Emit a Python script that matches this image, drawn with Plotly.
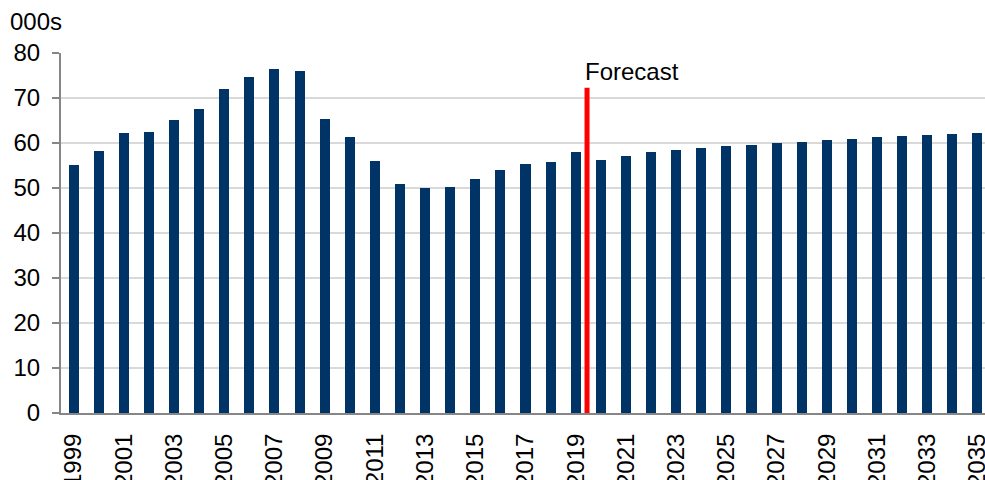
import plotly.graph_objects as go

# Annual values, thousands (1999-2019 actual, 2020-2035 forecast)
years = list(range(1999, 2036))
values = [
    55.2, 58.2, 62.2, 62.4, 65.2, 67.6, 72.1, 74.7, 76.5, 75.9,
    65.3, 61.4, 55.9, 51.0, 49.9, 50.2, 52.1, 54.0, 55.4, 55.8,
    57.9, 56.2, 57.1, 58.1, 58.4, 58.8, 59.3, 59.6, 59.9, 60.2,
    60.6, 61.0, 61.3, 61.5, 61.7, 61.9, 62.2,
]
tick_years = list(range(1999, 2036, 2))
forecast_x = 2019.45
forecast_top = 72.3

FONT = "Liberation Sans, Arial, sans-serif"
BAR = "#003366"
GRID = "#d9d9d9"
AXIS = "#868686"

fig = go.Figure()
fig.add_trace(go.Bar(
    x=years, y=values, width=0.4,
    marker=dict(color=BAR, line=dict(width=0)),
    hoverinfo="x+y",
))

# Forecast divider
fig.add_shape(
    type="line", xref="x", yref="y",
    x0=forecast_x, x1=forecast_x, y0=0, y1=forecast_top,
    line=dict(color="#ff0000", width=5),
)
fig.add_annotation(
    x=forecast_x, y=75.8, xref="x", yref="y",
    text="Forecast", showarrow=False,
    xanchor="left", yanchor="middle", xshift=-4,
    font=dict(family=FONT, size=24, color="#000000"),
)
fig.add_annotation(
    x=0, y=1, xref="paper", yref="paper",
    text="000s", showarrow=False,
    xanchor="left", yanchor="bottom", xshift=-53, yshift=16,
    font=dict(family=FONT, size=24, color="#000000"),
)

fig.update_layout(
    width=985, height=480,
    margin=dict(l=61, r=0, t=53, b=67, pad=0, autoexpand=False),
    paper_bgcolor="#ffffff", plot_bgcolor="#ffffff",
    font=dict(family=FONT, size=24, color="#000000"),
    showlegend=False,
    bargap=0,
)
fig.update_xaxes(
    range=[1998.5, 2035.3],
    tickmode="array", tickvals=tick_years,
    ticktext=[str(y) for y in tick_years],
    tickangle=-90, ticks="", showgrid=False,
    showline=True, linecolor=AXIS, linewidth=2,
    zeroline=False, ticklabelstandoff=9,
    ticklabeloverflow="allow", automargin=False,
    tickfont=dict(family=FONT, size=24, color="#000000"),
)
fig.update_yaxes(
    range=[0, 80], dtick=10,
    showgrid=True, gridcolor=GRID, gridwidth=1.5,
    showline=True, linecolor=AXIS, linewidth=2,
    ticks="outside", ticklen=7, tickcolor=AXIS, tickwidth=2,
    zeroline=False, ticklabelstandoff=7, automargin=False,
    tickfont=dict(family=FONT, size=24, color="#000000"),
)

fig.write_html("out.html")
